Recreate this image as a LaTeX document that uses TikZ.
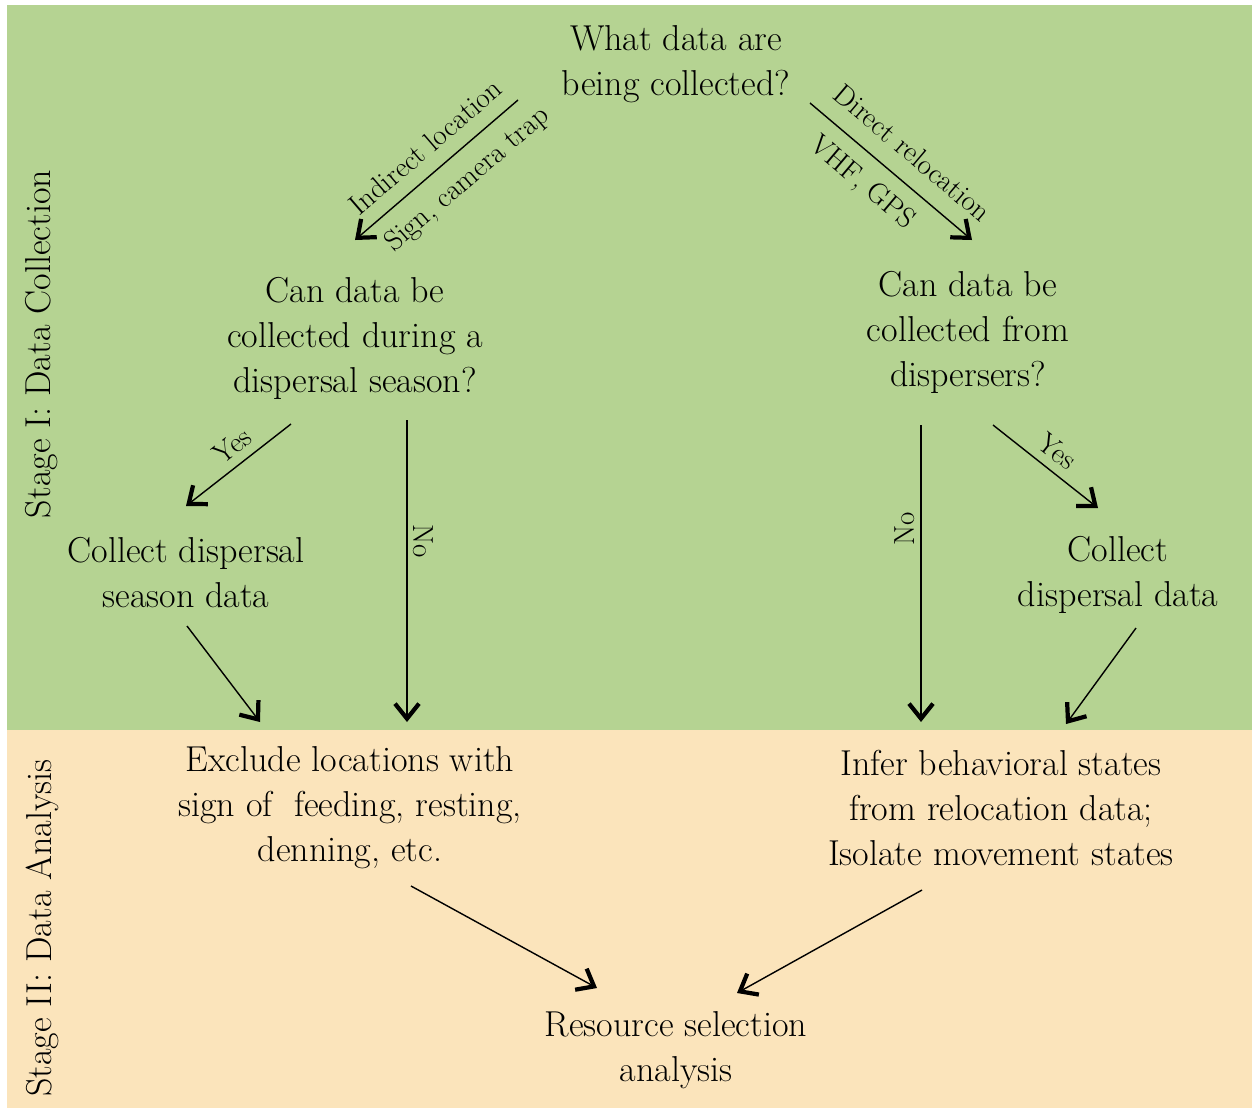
\documentclass[tikz,border=0pt]{standalone}
\usepackage{amsmath}
\usepackage{xcolor}
\usetikzlibrary{arrows.meta}
\definecolor{stagegreen}{RGB}{181,211,146}
\definecolor{stagetan}{RGB}{251,228,187}
\tikzset{
  txt/.style={align=center, inner sep=0pt, font=\fontsize{20.5}{25.6}\selectfont},
  lbl/.style={inner sep=3pt, font=\fontsize{16.5}{19}\selectfont},
  stagelbl/.style={rotate=90, inner sep=0pt, font=\fontsize{20.5}{24}\selectfont},
  arr/.style={line width=0.8pt, -{Straight Barb[length=0.3cm, width=0.48cm, line width=2.4pt]}}
}

\begin{document}
\begin{tikzpicture}[x=0.02cm, y=-0.02cm]
\useasboundingbox (0,0) rectangle (1253,1110);
\fill[white] (0,0) rectangle (1253,1110);
\fill[stagegreen] (7,5) rectangle (1252,730);
\fill[stagetan] (7,730) rectangle (1252,1108);

\node[stagelbl] (stage1) at (42,344) {Stage I: Data Collection};
\node[stagelbl] (stage2) at (42,928) {Stage II: Data Analysis};

\node[txt] (what) at (676,64) {What data are\\being collected?};
\node[txt] (canseason) at (355,338) {Can data be\\collected during a\\dispersal season?};
\node[txt] (candisp) at (968,332) {Can data be\\collected from\\dispersers?};
\node[txt] (colseason) at (186,573) {Collect dispersal\\season data};
\node[txt] (coldisp) at (1118,575) {Collect\\dispersal data};
\node[txt] (exclude) at (350,808) {Exclude locations with\\sign of\ \ feeding, resting,\\denning, etc.};
\node[txt] (infer) at (1001,808) {Infer behavioral states\\from relocation data;\\Isolate movement states};
\node[txt] (rsa) at (676,1050) {Resource selection\\analysis};

% arrow ends
\coordinate (what-l) at (518,100);
\coordinate (what-r) at (810,103);
\coordinate (canseason-n) at (355,240);
\coordinate (candisp-n) at (972,240);
\coordinate (canseason-yes) at (291,424);
\coordinate (canseason-no) at (407,420);
\coordinate (colseason-n) at (186,506);
\coordinate (colseason-s) at (187,626);
\coordinate (candisp-no) at (921,425);
\coordinate (candisp-yes) at (993,425);
\coordinate (coldisp-n) at (1098,508);
\coordinate (coldisp-s) at (1136,628);
\coordinate (exclude-nl) at (260,722);
\coordinate (exclude-nr) at (407,722);
\coordinate (infer-nl) at (921,722);
\coordinate (infer-nr) at (1066,724);
\coordinate (exclude-s) at (411,886);
\coordinate (infer-s) at (922,890);
\coordinate (rsa-nl) at (597,988);
\coordinate (rsa-nr) at (737,993);

\draw[arr] (what-l) -- (canseason-n)
  node[lbl, pos=0.47, sloped, above=5pt] {Indirect location}
  node[lbl, pos=0.42, sloped, below=5pt] {Sign, camera trap};
\draw[arr] (what-r) -- (candisp-n)
  node[lbl, pos=0.52, sloped, above=7pt] {Direct relocation}
  node[lbl, pos=0.43, sloped, below=5pt] {VHF, GPS};
\draw[arr] (canseason-yes) -- (colseason-n) node[lbl, pos=0.45, sloped, above=2pt] {Yes};
\draw[arr] (canseason-no) -- (exclude-nr) node[lbl, pos=0.4, anchor=south, rotate=-90] {No};
\draw[arr] (colseason-s) -- (exclude-nl);
\draw[arr] (candisp-no) -- (infer-nl) node[lbl, pos=0.35, anchor=south, rotate=90] {No};
\draw[arr] (candisp-yes) -- (coldisp-n) node[lbl, pos=0.5, sloped, above=2pt] {Yes};
\draw[arr] (coldisp-s) -- (infer-nr);
\draw[arr] (exclude-s) -- (rsa-nl);
\draw[arr] (infer-s) -- (rsa-nr);
\end{tikzpicture}
\end{document}
